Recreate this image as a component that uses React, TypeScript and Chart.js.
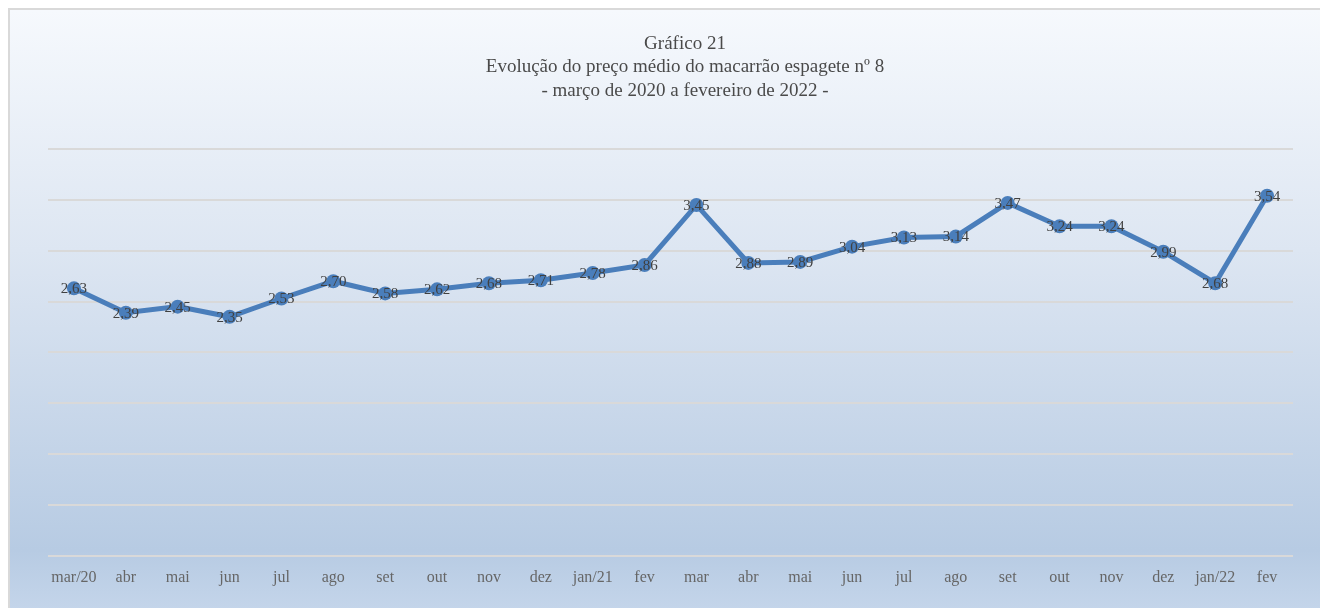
import React, { useEffect, useRef } from "react";
import { Chart, registerables } from "chart.js";

Chart.register(...registerables);

const titleLines = [
  "Gráfico 21",
  "Evolução do preço médio do macarrão espagete nº 8",
  "- março de 2020 a fevereiro de 2022 -",
];

const categories = [
  "mar/20", "abr", "mai", "jun", "jul", "ago", "set", "out", "nov", "dez", "jan/21", "fev",
  "mar", "abr", "mai", "jun", "jul", "ago", "set", "out", "nov", "dez", "jan/22", "fev",
];

const prices = [
  2.63, 2.39, 2.45, 2.35, 2.53, 2.7, 2.58, 2.62, 2.68, 2.71, 2.78, 2.86,
  3.45, 2.88, 2.89, 3.04, 3.13, 3.14, 3.47, 3.24, 3.24, 2.99, 2.68, 3.54,
];

const yMin = 0;
const yMax = 4;
const yStep = 0.5;

const FONT = "'Liberation Serif', 'DejaVu Serif', serif";

const titlePlugin = {
  id: "centeredTitle",
  afterDraw(chart: any) {
    const ctx = chart.ctx;
    ctx.save();
    ctx.font = `19px ${FONT}`;
    ctx.fillStyle = "#4a4a4a";
    ctx.textAlign = "center";
    ctx.textBaseline = "middle";
    const cx = chart.width / 2;
    titleLines.forEach((line, i) => {
      ctx.fillText(line, cx, 34 + i * 23.5);
    });
    ctx.restore();
  },
};

const dataLabelPlugin = {
  id: "dataLabels",
  afterDatasetsDraw(chart: any) {
    const ctx = chart.ctx;
    const meta = chart.getDatasetMeta(0);
    ctx.save();
    ctx.font = `15px ${FONT}`;
    ctx.fillStyle = "#404040";
    ctx.textAlign = "center";
    ctx.textBaseline = "middle";
    meta.data.forEach((pt: any, i: number) => {
      const v = chart.data.datasets[0].data[i] as number;
      ctx.fillText(v.toFixed(2).replace(".", ","), pt.x, pt.y + 1);
    });
    ctx.restore();
  },
};

export default function App() {
  const ref = useRef<HTMLCanvasElement | null>(null);

  useEffect(() => {
    document.body.style.overflow = "hidden";
    if (!ref.current) return;
    const chart = new Chart(ref.current, {
      type: "line",
      data: {
        labels: categories,
        datasets: [
          {
            data: prices,
            borderColor: "#4a7ebb",
            backgroundColor: "#4a7ebb",
            borderWidth: 5,
            pointRadius: 7,
            pointHoverRadius: 7,
            pointBorderWidth: 0,
            tension: 0,
          },
        ],
      },
      options: {
        animation: false,
        responsive: false,
        maintainAspectRatio: false,
        layout: { padding: { left: 0, right: 67, top: 139, bottom: 17 } },
        plugins: {
          legend: { display: false },
          tooltip: { enabled: false },
          title: { display: false },
        },
        scales: {
          x: {
            offset: true,
            grid: { display: false },
            border: { display: false },
            ticks: {
              color: "#666666",
              font: { family: FONT, size: 16 },
              padding: 4,
              maxRotation: 0,
              autoSkip: false,
            },
          },
          y: {
            min: yMin,
            max: yMax,
            ticks: { display: false, stepSize: yStep },
            border: { display: false },
            grid: { color: "#d9d9d9", lineWidth: 2, drawTicks: false },
            afterFit: (s: any) => {
              s.width = 38;
            },
          },
        },
      },
      plugins: [dataLabelPlugin, titlePlugin],
    });
    return () => chart.destroy();
  }, []);

  return (
    <div
      style={{
        position: "fixed",
        left: 8,
        top: 8,
        width: 1350,
        height: 600,
        border: "2px solid #d9d9d9",
        background:
          "linear-gradient(to bottom, #f6f9fd 0%, #dde6f2 40%, #b7cbe3 90%, #c4d5ea 100%)",
      }}
    >
      <canvas ref={ref} width={1350} height={598} style={{ display: "block" }} />
    </div>
  );
}
